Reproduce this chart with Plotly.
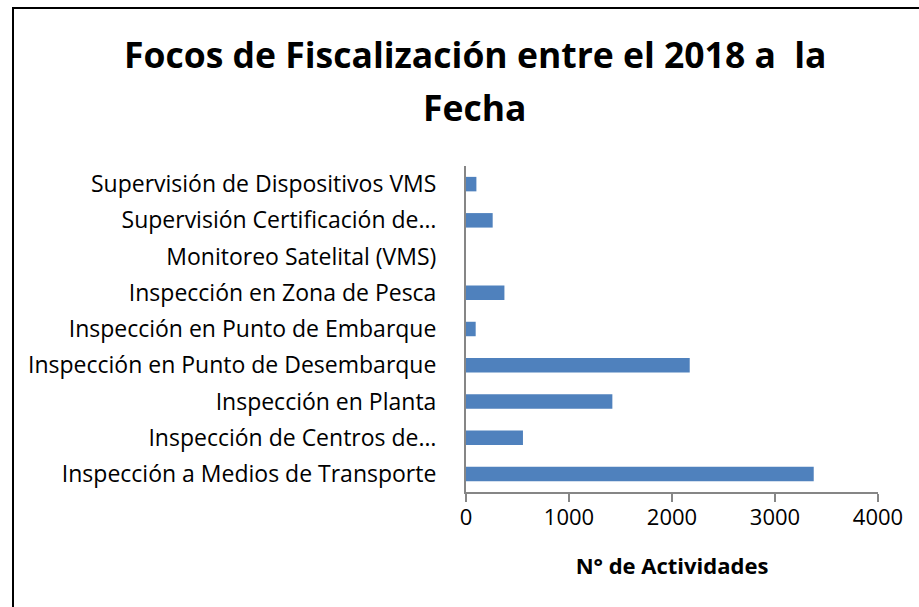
import plotly.graph_objects as go

categories = [
    "Inspección a Medios de Transporte",
    "Inspección de Centros de…",
    "Inspección en Planta",
    "Inspección en Punto de Desembarque",
    "Inspección en Punto de Embarque",
    "Inspección en Zona de Pesca",
    "Monitoreo Satelital (VMS)",
    "Supervisión Certificación de…",
    "Supervisión de Dispositivos VMS",
]
values = [3376, 553, 1421, 2172, 94, 373, 0, 259, 101]
x_ticks = [0, 1000, 2000, 3000, 4000]

title_line1 = "Focos de Fiscalización entre el 2018 a\u00a0 la"
title_line2 = "Fecha"
x_title = "N° de Actividades"

W, H = 919, 607
L, R, T, B = 466, 41, 166, 115
pw, ph = W - L - R, H - T - B

def px_to_paper_x(px):
    return (px - L) / pw

def px_to_paper_y(py):
    return (H - B - py) / ph

fig = go.Figure()
fig.add_trace(go.Bar(
    x=values, y=categories, orientation="h",
    marker=dict(color="#4F81BD", line=dict(width=0)),
))

font_fam = "Open Sans"
title_font = dict(family=font_fam, size=35.5, color="black", weight="bold")
fig.update_layout(
    width=W, height=H,
    margin=dict(l=L, r=R, t=T, b=B),
    paper_bgcolor="white", plot_bgcolor="white",
    showlegend=False,
    bargap=0.6,
    font=dict(family=font_fam, color="black", size=22),
    xaxis=dict(
        range=[0, 4000], tickvals=x_ticks, ticktext=[str(v) for v in x_ticks],
        showgrid=False, zeroline=False,
        showline=True, linecolor="#868686", linewidth=2,
        ticks="outside", ticklen=8, tickwidth=2, tickcolor="#868686",
        ticklabelstandoff=-3,
        tickfont=dict(family=font_fam, size=22, color="black"),
        title=dict(text=x_title, font=dict(family=font_fam, size=22, color="black", weight="bold"), standoff=28),
        fixedrange=True,
    ),
    yaxis=dict(
        type="category", categoryorder="array", categoryarray=categories,
        showgrid=False, zeroline=False,
        showline=True, linecolor="#868686", linewidth=2,
        ticks="", ticklabelstandoff=23,
        tickfont=dict(family=font_fam, size=23, color="black"),
        fixedrange=True,
    ),
    annotations=[
        dict(text=title_line1, showarrow=False, xref="paper", yref="paper",
             x=px_to_paper_x(475), y=px_to_paper_y(54),
             xanchor="center", yanchor="middle", font=title_font),
        dict(text=title_line2, showarrow=False, xref="paper", yref="paper",
             x=px_to_paper_x(474), y=px_to_paper_y(107),
             xanchor="center", yanchor="middle", font=title_font),
    ],
    shapes=[dict(
        type="rect", xref="paper", yref="paper",
        x0=px_to_paper_x(13), x1=px_to_paper_x(930),
        y0=px_to_paper_y(620), y1=px_to_paper_y(8),
        line=dict(color="black", width=2), fillcolor="rgba(0,0,0,0)", layer="below",
    )],
)

fig.write_html(
    "out.html",
    config={"displayModeBar": False},
    post_script="document.body.style.margin='0';document.body.style.overflow='hidden';",
)
